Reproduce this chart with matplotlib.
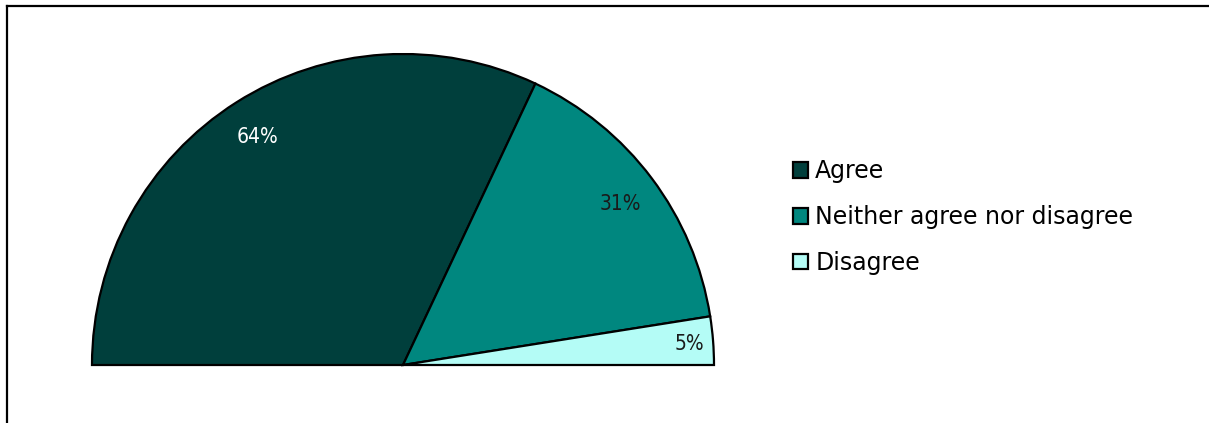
import numpy as np
import matplotlib.pyplot as plt
from matplotlib.lines import Line2D

labels = ["Agree", "Neither agree nor disagree", "Disagree"]
shares = [64, 31, 5]
colors = ["#003f3c", "#00877f", "#b4fcf6"]
text_colors = ["white", "#1a1a1a", "#1a1a1a"]
label_dist = [0.875, 0.875, 0.925]

W, H = 1209, 423
fig = plt.figure(figsize=(W / 100, H / 100), dpi=100)

# half pie: centre and radius in pixels
cx, cy, r = 403, 365, 311
ax = fig.add_axes([(cx - r) / W, (H - cy) / H, 2 * r / W, r / H])

# the bottom half is a hidden slice the same size as the whole
vals = shares + [sum(shares)]
wedges, _ = ax.pie(vals, colors=colors + ["none"], startangle=180, counterclock=False,
                   wedgeprops=dict(edgecolor="black", linewidth=1.6))
wedges[-1].set_visible(False)
for w in wedges:
    w.set_clip_on(False)
ax.set_aspect("auto")
ax.set_xlim(-1, 1)
ax.set_ylim(0, 1)
ax.axis("off")

total = sum(vals)
start = 180.0
for v, tc, d in zip(shares, text_colors, label_dist):
    span = 360.0 * v / total
    mid = np.deg2rad(start - span / 2)
    start -= span
    ax.text(d * np.cos(mid), d * np.sin(mid), f"{v}%", color=tc, fontsize=15,
            fontstretch="condensed", ha="center", va="center_baseline")

fig.legend(wedges[:3], labels, loc="upper left",
           bbox_to_anchor=(784 / W, 1 - 150 / H), frameon=False, fontsize=17,
           handlelength=0.62, handleheight=0.62, handletextpad=0.3,
           labelspacing=0.92, borderaxespad=0)

# outer frame (top and left edges)
fig.add_artist(Line2D([7 / W, 1], [1 - 6 / H, 1 - 6 / H], color="black", lw=1.6,
                      transform=fig.transFigure))
fig.add_artist(Line2D([7 / W, 7 / W], [0, 1 - 6 / H], color="black", lw=1.6,
                      transform=fig.transFigure))

fig.savefig("out.png", dpi=100)
